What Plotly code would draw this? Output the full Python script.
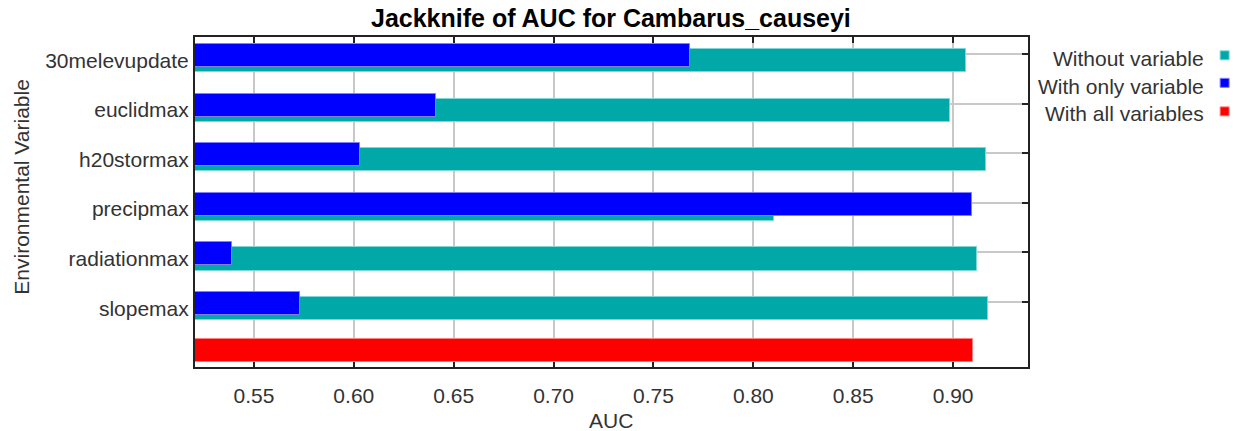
import plotly.graph_objects as go

# ---- data ----
categories = ["30melevupdate", "euclidmax", "h20stormax", "precipmax", "radiationmax", "slopemax"]
without_variable = [0.9067, 0.8987, 0.9165, 0.8105, 0.9120, 0.9175]
with_only_variable = [0.7684, 0.6409, 0.6033, 0.9095, 0.5391, 0.5730]
with_all_variables = [0.9102]
x_ticks = [0.55, 0.60, 0.65, 0.70, 0.75, 0.80, 0.85, 0.90]
legend_labels = ["Without variable", "With only variable", "With all variables"]

# ---- geometry (pixels) ----
W, H = 1243, 431
L, R, T, B = 195, 1028.3, 37, 366.7
PW, PH = R - L, B - T
row_px = 49.5
grid0 = 54.0
y_top = (T - grid0) / row_px
y_bot = (B - grid0) / row_px

def px_x(p):
    return (p - L) / PW

def px_y(p):
    return (B - p) / PH

TEAL = "#00A8A8"
BLUE = "#0000FF"
RED = "#FF0000"
FONT = "Liberation Sans, Arial, sans-serif"

idx = list(range(len(categories)))

fig = go.Figure()
fig.add_bar(
    y=[i + 0.137 for i in idx], x=without_variable, orientation="h", width=0.465,
    marker=dict(color=TEAL, line=dict(color="#7FD6D6", width=1)),
    showlegend=False, name=legend_labels[0],
)
fig.add_bar(
    y=[i + 0.03 for i in idx], x=with_only_variable, orientation="h", width=0.465,
    marker=dict(color=BLUE, line=dict(color="#7F7FFF", width=1)),
    showlegend=False, name=legend_labels[1],
)
fig.add_bar(
    y=[len(categories) - 0.01], x=with_all_variables, orientation="h", width=0.465,
    marker=dict(color=RED, line=dict(color="#FF8080", width=1)),
    showlegend=False, name=legend_labels[2],
)
# dummy trace so the overlay axis (grid/ticks) is drawn
fig.add_scatter(x=[0.6], y=[0], yaxis="y2", mode="markers",
                marker=dict(opacity=0), showlegend=False, hoverinfo="skip")

axis_common = dict(showline=True, linecolor="#222222", linewidth=2, zeroline=False,
                   layer="below traces")

fig.update_layout(
    width=W, height=H,
    margin=dict(l=L, r=W - R, t=T, b=H - B, pad=0),
    paper_bgcolor="white", plot_bgcolor="white",
    barmode="overlay", bargap=0,
    font=dict(family=FONT, size=21, color="#333333"),
    xaxis=dict(
        range=[0.5205, 0.9375], tickvals=x_ticks, ticktext=[f"{v:.2f}" for v in x_ticks],
        showgrid=True, gridcolor="#C8C8C8", gridwidth=1.5,
        ticks="inside", ticklen=6, tickwidth=2, tickcolor="#222222",
        mirror="ticks", tickfont=dict(size=21, color="#333333"),
        ticklabelstandoff=9,
        **axis_common,
    ),
    yaxis=dict(
        range=[y_bot, y_top], tickvals=[i + 0.13 for i in idx], ticktext=categories,
        showgrid=False, ticks="", tickfont=dict(size=21, color="#333333"),
        **axis_common,
    ),
    yaxis2=dict(
        overlaying="y", side="right", range=[y_bot, y_top], tickvals=idx,
        showgrid=True, gridcolor="#C8C8C8", gridwidth=1.5,
        ticks="inside", ticklen=6, tickwidth=2, tickcolor="#222222",
        showticklabels=False, **axis_common,
    ),
)

ann = []
ann.append(dict(text="<b>Jackknife of AUC for Cambarus_causeyi</b>", x=px_x(611.5), y=px_y(18.5),
                xref="paper", yref="paper", xanchor="center", yanchor="middle", showarrow=False,
                font=dict(family=FONT, size=25, color="#000000")))
ann.append(dict(text="AUC", x=px_x(611.5), y=px_y(420), xref="paper", yref="paper",
                xanchor="center", yanchor="middle", showarrow=False,
                font=dict(family=FONT, size=21, color="#333333")))
ann.append(dict(text="Environmental Variable", x=px_x(21.5), y=px_y(187), xref="paper", yref="paper",
                xanchor="center", yanchor="middle", textangle=-90, showarrow=False,
                font=dict(family=FONT, size=21, color="#333333")))

leg_text_y = [58.3, 86.7, 113.3]
leg_sq_y = [55.3, 82.8, 111.3]
leg_cols = [TEAL, BLUE, RED]
leg_edges = ["#7FD6D6", "#7F7FFF", "#FF8080"]
shapes = []
for lab, ty, sy, c, e in zip(legend_labels, leg_text_y, leg_sq_y, leg_cols, leg_edges):
    ann.append(dict(text=lab, x=px_x(1206.7), y=px_y(ty), xref="paper", yref="paper",
                    xanchor="right", yanchor="middle", showarrow=False,
                    font=dict(family=FONT, size=21, color="#333333")))
    shapes.append(dict(type="rect", xref="paper", yref="paper",
                       x0=px_x(1220.5), x1=px_x(1229.5), y0=px_y(sy + 4.5), y1=px_y(sy - 4.5),
                       fillcolor=c, line=dict(color=e, width=1)))

fig.update_layout(annotations=ann, shapes=shapes)
fig.write_html("out.html")
